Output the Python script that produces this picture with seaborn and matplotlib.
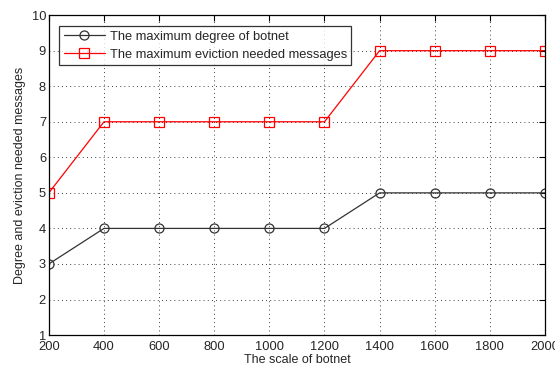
import matplotlib
matplotlib.use("Agg")
import matplotlib.pyplot as plt
import seaborn as sns
import pandas as pd

scale = [200, 400, 600, 800, 1000, 1200, 1400, 1600, 1800, 2000]
max_degree = [3, 4, 4, 4, 4, 4, 5, 5, 5, 5]
max_eviction = [5, 7, 7, 7, 7, 7, 9, 9, 9, 9]
xticks = [200, 400, 600, 800, 1000, 1200, 1400, 1600, 1800, 2000]
yticks = [1, 2, 3, 4, 5, 6, 7, 8, 9, 10]

sns.set_style("white")
plt.rcParams['font.family'] = ['Liberation Sans', 'DejaVu Sans']

df = pd.DataFrame({"scale": scale, "deg": max_degree, "evi": max_eviction})

fig = plt.figure(figsize=(5.55, 3.69), dpi=100)
ax = fig.add_axes([0.088, 0.092, 0.894, 0.867])

sns.lineplot(data=df, x="scale", y="deg", ax=ax, color="#333333", lw=0.9,
             marker="o", markersize=6.5, markerfacecolor="none",
             markeredgecolor="#333333", markeredgewidth=0.9,
             label="The maximum degree of botnet")
sns.lineplot(data=df, x="scale", y="evi", ax=ax, color="red", lw=0.9,
             marker="s", markersize=6.5, markerfacecolor="none",
             markeredgecolor="red", markeredgewidth=0.9,
             label="The maximum eviction needed messages")

ax.set_xlim(200, 2000)
ax.set_ylim(1, 10)
ax.set_xticks(xticks)
ax.set_yticks(yticks)
ax.grid(True, linestyle=(0, (1, 4)), color="black", lw=0.6)
ax.tick_params(direction="in", length=4, top=True, right=True, labelsize=9.3,
               color="black", width=0.8, pad=2)
ax.tick_params(axis="x", pad=4)
for s in ax.spines.values():
    s.set_color("black")
    s.set_linewidth(0.9)
ax.set_xlabel("The scale of botnet", fontsize=9, labelpad=1)
ax.set_ylabel("Degree and eviction needed messages", fontsize=9, labelpad=4)

leg = ax.legend(loc="upper left", bbox_to_anchor=(0.008, 0.985), fontsize=9.3,
                frameon=True, fancybox=False, edgecolor="black",
                borderpad=0.35, labelspacing=0.45, handlelength=3.2, handletextpad=0.35)
leg.get_frame().set_linewidth(0.9)

fig.savefig("out.png", dpi=100)
